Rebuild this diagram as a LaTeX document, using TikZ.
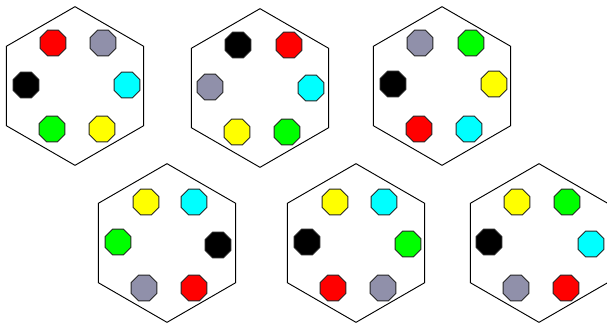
\documentclass[tikz,border=0pt]{standalone}
\usepackage{tikz}
\usetikzlibrary{shapes, calc}
\definecolor{dotred}{RGB}{255, 0, 0}
\definecolor{dotgray}{RGB}{144, 144, 170}
\definecolor{dotcyan}{RGB}{0, 255, 255}
\definecolor{dotgreen}{RGB}{0, 255, 0}
\definecolor{dotyellow}{RGB}{255, 255, 0}
\definecolor{dotblack}{RGB}{0, 0, 0}
\tikzset{
  hexframe/.style={draw=black, line width=0.8pt, regular polygon, regular polygon sides=6, shape border rotate=30, minimum size=4.76cm, inner sep=0pt},
  dot/.style={draw=black!85, line width=0.8pt, regular polygon, regular polygon sides=8, minimum size=0.84cm, inner sep=0pt}
}
\begin{document}
\begin{tikzpicture}[x=0.03cm, y=-0.03cm]
    \useasboundingbox (0,0) rectangle (607,323);

    % Hexagon frames
    \node[hexframe] (hexA) at (75, 86) {};
    \node[hexframe] (hexB) at (260, 88) {};
    \node[hexframe] (hexC) at (442, 86) {};
    \node[hexframe] (hexD) at (167, 243) {};
    \node[hexframe] (hexE) at (356, 243) {};
    \node[hexframe] (hexF) at (539, 243) {};

    % Dots of the first hexagon
    \node[dot, fill=dotred] (a1) at ($(hexA)+(-22,-43)$) {};
    \node[dot, fill=dotgray] (a2) at ($(hexA)+(28,-43)$) {};
    \node[dot, fill=dotblack] (a3) at ($(hexA)+(-49,-1)$) {};
    \node[dot, fill=dotcyan] (a4) at ($(hexA)+(52,-1)$) {};
    \node[dot, fill=dotgreen] (a5) at ($(hexA)+(-23,43)$) {};
    \node[dot, fill=dotyellow] (a6) at ($(hexA)+(27,43)$) {};

    % Dots of the second hexagon
    \node[dot, fill=dotblack] (b1) at ($(hexB)+(-22,-43)$) {};
    \node[dot, fill=dotred] (b2) at ($(hexB)+(29,-43)$) {};
    \node[dot, fill=dotgray] (b3) at ($(hexB)+(-50,-1)$) {};
    \node[dot, fill=dotcyan] (b4) at ($(hexB)+(51,0)$) {};
    \node[dot, fill=dotyellow] (b5) at ($(hexB)+(-23,44)$) {};
    \node[dot, fill=dotgreen] (b6) at ($(hexB)+(27,44)$) {};

    % Dots of the third hexagon
    \node[dot, fill=dotgray] (c1) at ($(hexC)+(-22,-43)$) {};
    \node[dot, fill=dotgreen] (c2) at ($(hexC)+(29,-43)$) {};
    \node[dot, fill=dotblack] (c3) at ($(hexC)+(-49,-2)$) {};
    \node[dot, fill=dotyellow] (c4) at ($(hexC)+(52,-2)$) {};
    \node[dot, fill=dotred] (c5) at ($(hexC)+(-23,43)$) {};
    \node[dot, fill=dotcyan] (c6) at ($(hexC)+(27,43)$) {};

    % Dots of the fourth hexagon
    \node[dot, fill=dotyellow] (d1) at ($(hexD)+(-21,-41)$) {};
    \node[dot, fill=dotcyan] (d2) at ($(hexD)+(27,-41)$) {};
    \node[dot, fill=dotgreen] (d3) at ($(hexD)+(-49,-1)$) {};
    \node[dot, fill=dotblack] (d4) at ($(hexD)+(51,2)$) {};
    \node[dot, fill=dotgray] (d5) at ($(hexD)+(-23,45)$) {};
    \node[dot, fill=dotred] (d6) at ($(hexD)+(27,45)$) {};

    % Dots of the fifth hexagon
    \node[dot, fill=dotyellow] (e1) at ($(hexE)+(-21,-41)$) {};
    \node[dot, fill=dotcyan] (e2) at ($(hexE)+(28,-41)$) {};
    \node[dot, fill=dotblack] (e3) at ($(hexE)+(-49,-1)$) {};
    \node[dot, fill=dotgreen] (e4) at ($(hexE)+(52,1)$) {};
    \node[dot, fill=dotred] (e5) at ($(hexE)+(-23,45)$) {};
    \node[dot, fill=dotgray] (e6) at ($(hexE)+(27,45)$) {};

    % Dots of the sixth hexagon
    \node[dot, fill=dotyellow] (f1) at ($(hexF)+(-22,-41)$) {};
    \node[dot, fill=dotgreen] (f2) at ($(hexF)+(28,-41)$) {};
    \node[dot, fill=dotblack] (f3) at ($(hexF)+(-50,-1)$) {};
    \node[dot, fill=dotcyan] (f4) at ($(hexF)+(52,1)$) {};
    \node[dot, fill=dotgray] (f5) at ($(hexF)+(-23,45)$) {};
    \node[dot, fill=dotred] (f6) at ($(hexF)+(27,45)$) {};

\end{tikzpicture}
\end{document}
